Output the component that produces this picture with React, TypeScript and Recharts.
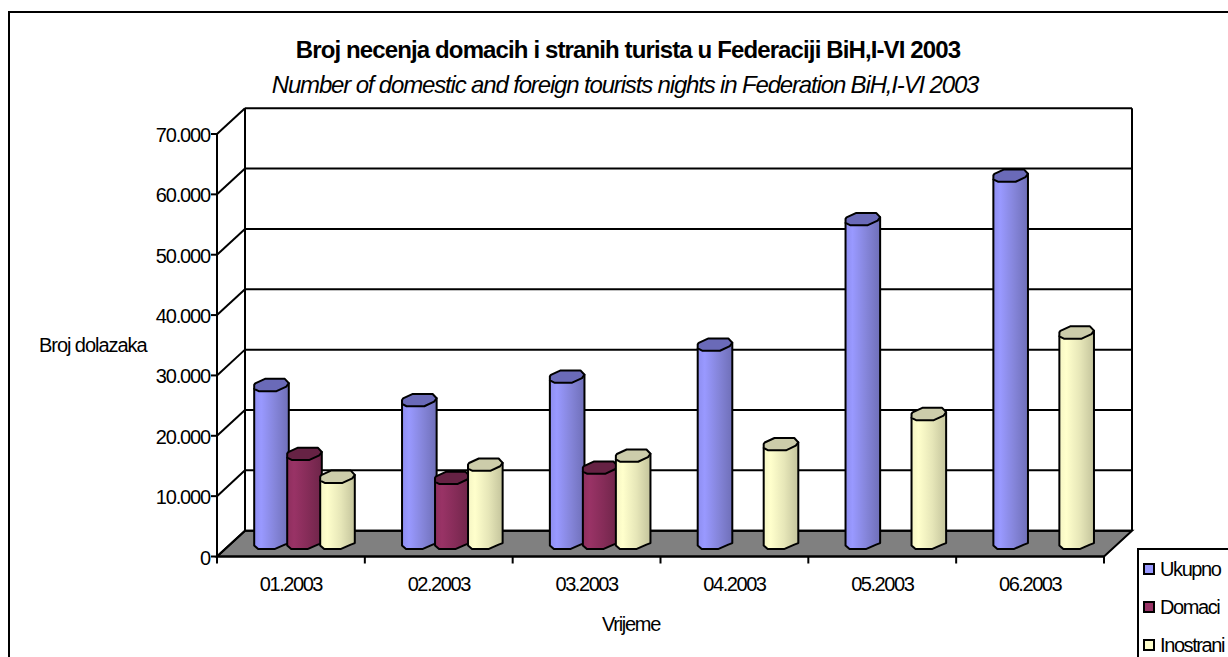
import React from "react";
import { BarChart, Bar, XAxis, YAxis, CartesianGrid, Legend } from "recharts";

const categories = ["01.2003", "02.2003", "03.2003", "04.2003", "05.2003", "06.2003"];
const ukupno = [26300, 23800, 27700, 33000, 53800, 61000];
const domaci = [14900, 10900, 12600, null, null, null];
const inostrani = [11100, 13100, 14600, 16500, 21500, 35000];
const yTicks = [0, 10000, 20000, 30000, 40000, 50000, 60000, 70000];

const data = categories.map((name, i) => ({
  name,
  Ukupno: ukupno[i],
  Domaci: domaci[i],
  Inostrani: inostrani[i],
}));

const FONT = "'Liberation Sans', Arial, sans-serif";
// how far the back wall sits behind the front plane of the fake 3D box
const DEPTH_X = 28;
const DEPTH_Y = 25.8;
const PLOT_LEFT = 217;
const PLOT_RIGHT = 1104;
const PLOT_TOP = 134;
const PLOT_BOTTOM = 556.5;
const BAND = (PLOT_RIGHT - PLOT_LEFT) / categories.length;
const LINE = 2;

// the cylinders in the picture are low-poly, so the caps are faceted, not ellipses
const Cylinder = (props: any) => {
  const { x, y, width, height, value, grad, top } = props;
  if (value === null || value === undefined) return null;
  const cx = x + DEPTH_X / 2 + width / 2;
  const r = (width + 1.6) / 2;
  const yTop = y - DEPTH_Y / 2;
  const yBase = yTop + height;
  const body = [
    `M${cx - r},${yTop + 4}`,
    `L${cx - r},${yBase + 2}`,
    `L${cx - r + 4},${yBase + 5.5}`,
    `L${cx + 3},${yBase + 5.5}`,
    `L${cx + r - 4},${yBase + 1}`,
    `L${cx + r},${yBase - 0.5}`,
    `L${cx + r},${yTop - 1.7}`,
    "Z",
  ].join(" ");
  const cap = [
    [-r, 0],
    [-r + 1, -1.5],
    [-6.5, -6],
    [r - 4, -6],
    [r, -1.7],
    [r - 2.5, 1.7],
    [5, 6.3],
    [-r + 4.5, 6.3],
    [-r, 4],
  ]
    .map(([dx, dy]) => `${cx + dx},${yTop + dy}`)
    .join(" ");
  return (
    <g>
      <path d={body} fill={`url(#${grad})`} stroke="#000" strokeWidth={LINE} strokeLinejoin="round" />
      <polygon points={cap} fill={top} stroke="#000" strokeWidth={LINE} strokeLinejoin="round" />
    </g>
  );
};

const gridLine = (props: any) => {
  const { x1, x2, y1, y2 } = props;
  const isFloor = Math.abs(y1 - PLOT_BOTTOM) < 1;
  const isTop = Math.abs(y1 - PLOT_TOP) < 1;
  return (
    <g key={props.key} stroke="#000" strokeWidth={LINE}>
      {isFloor && (
        <polygon
          points={`${x1},${y1} ${x1 + DEPTH_X},${y1 - DEPTH_Y} ${x2 + DEPTH_X},${y2 - DEPTH_Y} ${x2},${y2}`}
          fill="#808080"
        />
      )}
      {isTop && (
        <line x1={x1 + DEPTH_X} x2={x1 + DEPTH_X} y1={y1 - DEPTH_Y} y2={PLOT_BOTTOM - DEPTH_Y} />
      )}
      {isTop && (
        <line x1={x2 + DEPTH_X} x2={x2 + DEPTH_X} y1={y1 - DEPTH_Y} y2={PLOT_BOTTOM - DEPTH_Y} />
      )}
      <line x1={x1 + DEPTH_X} y1={y1 - DEPTH_Y} x2={x2 + DEPTH_X} y2={y2 - DEPTH_Y} />
      <line x1={x1} y1={y1} x2={x1 + DEPTH_X} y2={y1 - DEPTH_Y} />
    </g>
  );
};

const YTick = (props: any) => {
  const { x, y, payload } = props;
  const label = payload.value === 0 ? "0" : payload.value.toLocaleString("de-DE");
  return (
    <text x={x} y={y + 8} textAnchor="end" fontFamily={FONT} fontSize={20} letterSpacing={-1.15} fill="#000">
      {label}
    </text>
  );
};

const XTick = (props: any) => {
  const { x, y, payload, index } = props;
  const right = x + BAND / 2;
  return (
    <g>
      {index === 0 && <line x1={x - BAND / 2} x2={x - BAND / 2} y1={PLOT_BOTTOM} y2={PLOT_BOTTOM + 7} stroke="#000" strokeWidth={LINE} />}
      <line x1={right} x2={right} y1={PLOT_BOTTOM} y2={PLOT_BOTTOM + 7} stroke="#000" strokeWidth={LINE} />
      <text x={x} y={y + 26} textAnchor="middle" fontFamily={FONT} fontSize={20} letterSpacing={-1.45} fill="#000">
        {payload.value}
      </text>
    </g>
  );
};

const LegendBox = (props: any) => (
  <div style={{ paddingTop: 10 }}>
    {props.payload.map((item: any) => (
      <div key={item.value} style={{ height: 38, display: "flex", alignItems: "flex-start", fontFamily: FONT, fontSize: 20, letterSpacing: -1.4 }}>
        <span style={{ width: 8, height: 8, marginTop: 3, marginLeft: 4, marginRight: 5, border: "2px solid #000", background: item.color, display: "inline-block", flexShrink: 0 }} />
        <span style={{ whiteSpace: "nowrap", lineHeight: "18px" }}>{item.value}</span>
      </div>
    ))}
  </div>
);

const titleStyle: React.CSSProperties = {
  position: "absolute",
  left: 0,
  width: 1250,
  textAlign: "center",
  fontFamily: FONT,
  fontSize: 24,
  lineHeight: "24px",
  whiteSpace: "nowrap",
};

export default function App() {
  return (
    <div style={{ position: "absolute", left: 0, top: 0, width: 1228, height: 657, overflow: "hidden", background: "#fff" }}>
      <div style={{ position: "absolute", left: 8, top: 11, width: 1300, height: 700, border: "2px solid #000" }} />
      <div style={{ ...titleStyle, left: 3, top: 38, fontWeight: "bold", letterSpacing: -0.88 }}>
        Broj necenja domacih i stranih turista u Federaciji BiH,I-VI 2003
      </div>
      <div style={{ ...titleStyle, top: 73, fontStyle: "italic", letterSpacing: -1.16 }}>
        Number of domestic and foreign tourists nights in Federation BiH,I-VI 2003
      </div>
      <div style={{ position: "absolute", left: 0, top: 0 }}>
        <BarChart
          width={1228}
          height={657}
          data={data}
          barCategoryGap={24}
          barGap={0}
          margin={{ top: PLOT_TOP, right: 1228 - PLOT_RIGHT, bottom: 40.5, left: 117 }}
        >
          <defs>
            <linearGradient id="gradUkupno" x1="0" y1="0" x2="1" y2="0">
              <stop offset="0" stopColor="#8E8EF0" />
              <stop offset="0.2" stopColor="#9999FF" />
              <stop offset="0.6" stopColor="#8585DA" />
              <stop offset="1" stopColor="#6F6FB8" />
            </linearGradient>
            <linearGradient id="gradDomaci" x1="0" y1="0" x2="1" y2="0">
              <stop offset="0" stopColor="#8E2F5E" />
              <stop offset="0.2" stopColor="#993366" />
              <stop offset="0.6" stopColor="#852C58" />
              <stop offset="1" stopColor="#6E2549" />
            </linearGradient>
            <linearGradient id="gradInostrani" x1="0" y1="0" x2="1" y2="0">
              <stop offset="0" stopColor="#F5F5C4" />
              <stop offset="0.2" stopColor="#FFFFCC" />
              <stop offset="0.6" stopColor="#E6E6B8" />
              <stop offset="1" stopColor="#C4C49C" />
            </linearGradient>
          </defs>
          <CartesianGrid vertical={false} horizontal={gridLine} />
          <XAxis
            dataKey="name"
            height={60}
            interval={0}
            tickLine={false}
            axisLine={{ stroke: "#000", strokeWidth: LINE }}
            tick={<XTick />}
          />
          <YAxis
            domain={[0, 70000]}
            ticks={yTicks}
            width={100}
            tickSize={6}
            tickMargin={1}
            interval={0}
            axisLine={{ stroke: "#000", strokeWidth: LINE }}
            tickLine={{ stroke: "#000", strokeWidth: LINE }}
            tick={<YTick />}
          />
          <Bar dataKey="Ukupno" fill="#9999FF" isAnimationActive={false} shape={(p: any) => <Cylinder {...p} grad="gradUkupno" top="#6A6AB8" />} />
          <Bar dataKey="Domaci" fill="#993366" isAnimationActive={false} shape={(p: any) => <Cylinder {...p} grad="gradDomaci" top="#662244" />} />
          <Bar dataKey="Inostrani" fill="#FFFFCC" isAnimationActive={false} shape={(p: any) => <Cylinder {...p} grad="gradInostrani" top="#CCCCAA" />} />
          <Legend
            layout="horizontal"
            align="center"
            verticalAlign="middle"
            itemSorter={null}
            content={<LegendBox />}
            wrapperStyle={{ left: 1137, top: 548, width: 120, height: 130, border: "2px solid #000", background: "#fff", boxSizing: "border-box" }}
          />
        </BarChart>
      </div>
      <div style={{ position: "absolute", left: 39, top: 335, fontFamily: FONT, fontSize: 20, lineHeight: "20px", letterSpacing: -1.05 }}>Broj dolazaka</div>
      <div style={{ position: "absolute", left: 602, top: 614, fontFamily: FONT, fontSize: 20, lineHeight: "20px", letterSpacing: -1.3 }}>Vrijeme</div>
    </div>
  );
}
